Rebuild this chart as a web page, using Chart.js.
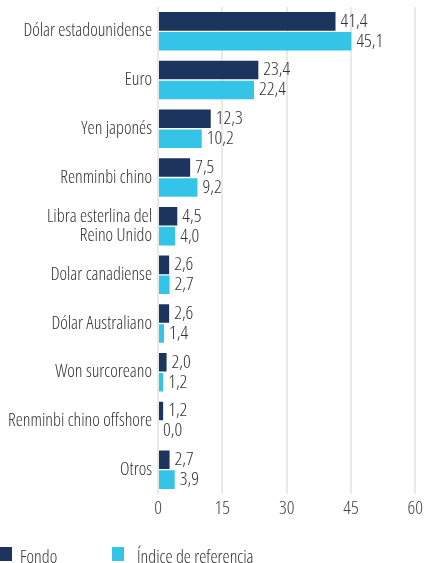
<!DOCTYPE html>
<html>
<head>
<meta charset="utf-8">
<script src="https://cdn.jsdelivr.net/npm/chart.js@4.4.1/dist/chart.umd.min.js"></script>
<style>
  html, body { margin: 0; padding: 0; background: #fff; }
  #wrap { position: relative; width: 426px; height: 563px; }
  .legend { position: absolute; top: 544px; left: 0; font: condensed 300 18px 'Open Sans', sans-serif; color: #333; }
  .legend span { position: absolute; white-space: nowrap; top: 0; }
  .legend i { position: absolute; width: 12px; height: 14px; top: 3px; }
</style>
</head>
<body>
<div id="wrap">
  <canvas id="chart" width="426" height="563"></canvas>
  <div class="legend">
    <i style="left:0;background:#1c355e"></i><span style="left:20px">Fondo</span>
    <i style="left:112px;background:#33c4e8"></i><span style="left:137px">Índice de referencia</span>
  </div>
</div>
<script>
const CATEGORIES = [
  "Dólar estadounidense",
  "Euro",
  "Yen japonés",
  "Renminbi chino",
  ["Libra esterlina del", "Reino Unido"],
  "Dolar canadiense",
  "Dólar Australiano",
  "Won surcoreano",
  "Renminbi chino offshore",
  "Otros",
];
const FONDO = [41.4, 23.4, 12.3, 7.5, 4.5, 2.6, 2.6, 2.0, 1.2, 2.7];
const INDICE = [45.1, 22.4, 10.2, 9.2, 4.0, 2.7, 1.4, 1.2, 0.0, 3.9];
const X_TICKS = [0, 15, 30, 45, 60];

const FAMILY = "'Open Sans', sans-serif";
// Chart.js checks `style`, so the width keyword rides along with the weight
const LABEL_FONT = { family: FAMILY, size: 18, weight: "condensed 300", lineHeight: 1.05 };
const TICK_FONT = { family: FAMILY, size: 19, weight: "condensed 300" };

const valueLabels = {
  id: "valueLabels",
  afterDatasetsDraw(chart) {
    const { ctx } = chart;
    ctx.save();
    ctx.font = "condensed 300 19px " + FAMILY;
    ctx.fillStyle = "#333";
    ctx.textAlign = "left";
    ctx.textBaseline = "middle";
    chart.data.datasets.forEach((ds, i) => {
      chart.getDatasetMeta(i).data.forEach((bar, j) => {
        ctx.fillText(ds.data[j].toFixed(1).replace(".", ","), bar.x + 5, bar.y);
      });
    });
    ctx.restore();
  },
};

new Chart(document.getElementById("chart"), {
  type: "bar",
  data: {
    labels: CATEGORIES,
    datasets: [
      { label: "Fondo", data: FONDO, backgroundColor: "#1c355e" },
      { label: "Índice de referencia", data: INDICE, backgroundColor: "#33c4e8" },
    ],
  },
  options: {
    indexAxis: "y",
    responsive: false,
    animation: false,
    categoryPercentage: 0.82,
    barPercentage: 0.93,
    layout: { padding: { top: 7, right: 9, left: 0, bottom: 45 } },
    plugins: { legend: { display: false }, tooltip: { enabled: false } },
    scales: {
      x: {
        min: 0,
        max: 60,
        afterBuildTicks: (scale) => {
          scale.ticks = X_TICKS.map((v) => ({ value: v }));
        },
        afterFit: (scale) => {
          scale.height = 24;
        },
        grid: { color: "#e9e9e9", lineWidth: 2, drawTicks: false },
        border: { display: false },
        ticks: { padding: 3, color: "#444", font: TICK_FONT },
      },
      y: {
        afterFit: (scale) => {
          scale.width = 158;
          scale.paddingTop = 0;
          scale.paddingBottom = 0;
        },
        grid: { display: false, drawTicks: false },
        border: { display: false },
        ticks: { padding: 6, color: "#333", font: LABEL_FONT },
      },
    },
  },
  plugins: [valueLabels],
});
</script>
</body>
</html>
